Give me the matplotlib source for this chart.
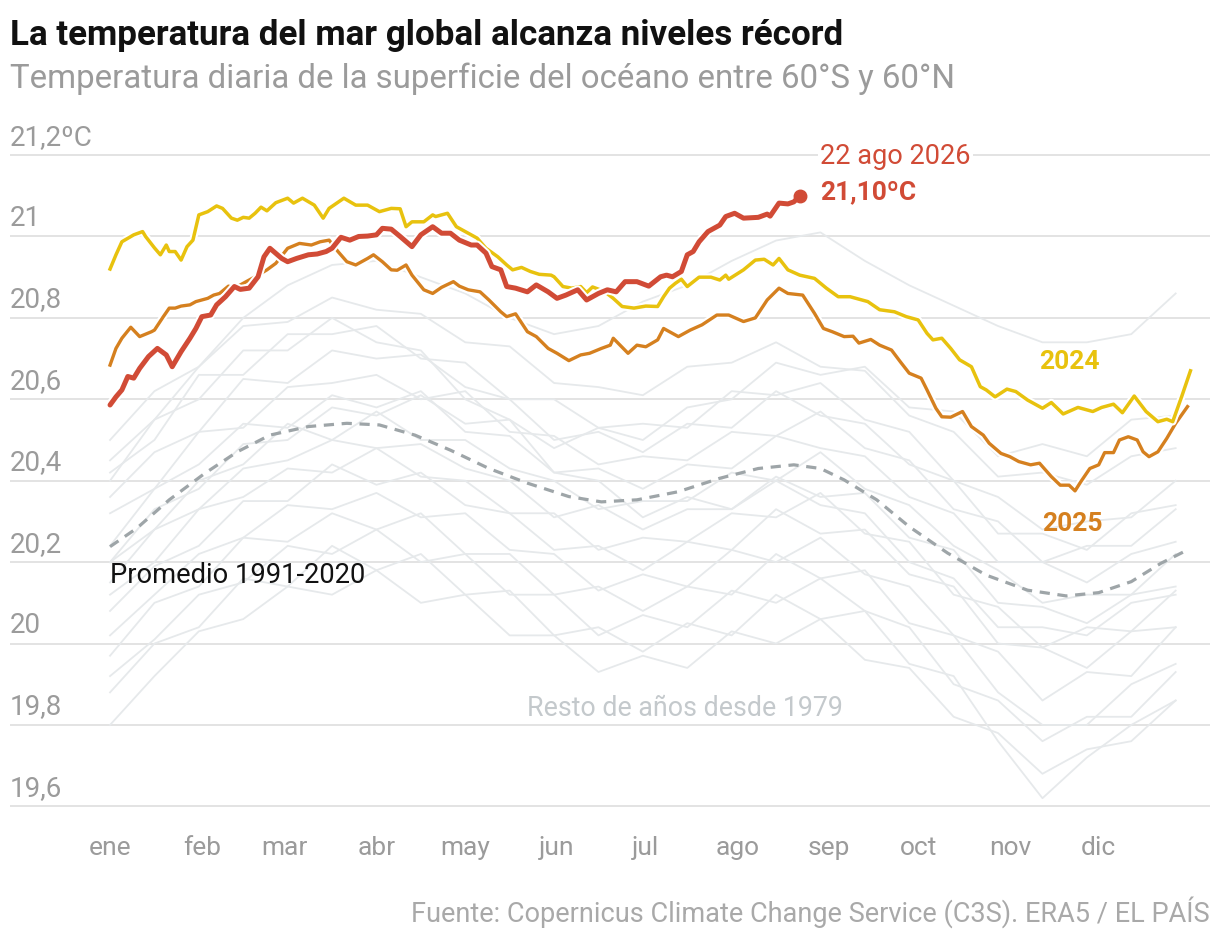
import matplotlib
matplotlib.use("Agg")
import matplotlib.pyplot as plt
import matplotlib.patheffects as pe

plt.rcParams['font.family'] = ['Roboto', 'DejaVu Sans']

# --- Datos ---
dias_2024 = [0, 2, 4, 8, 11, 12, 15, 17, 19, 20, 22, 24, 26, 28, 30, 33, 36, 38, 41, 43, 45, 47, 49, 51, 53, 56,
             60, 62, 65, 69, 72, 74, 79, 83, 87, 91, 95, 98, 100, 102, 106, 109, 110, 114, 117, 121, 124, 127, 131,
             134, 136, 139, 142, 145, 149, 150, 153, 156, 159, 161, 163, 167, 170, 173, 177, 181, 185, 187, 189, 191,
             193, 195, 199, 203, 206, 208, 209, 214, 218, 221, 224, 226, 229, 233, 238, 242, 246, 250, 256, 260, 265,
             269, 273, 276, 278, 281, 284, 287, 291, 294, 296, 299, 303, 306, 310, 315, 318, 322, 327, 332, 335, 339,
             342, 346, 350, 354, 357, 359, 362, 365]
temp_2024 = [20.92, 20.955, 20.987, 21.004, 21.012, 21.0, 20.972, 20.955, 20.979, 20.963, 20.963, 20.942, 20.975,
             20.991, 21.053, 21.061, 21.075, 21.069, 21.045, 21.04, 21.047, 21.045, 21.057, 21.072, 21.063, 21.083,
             21.094, 21.082, 21.094, 21.077, 21.045, 21.069, 21.094, 21.077, 21.077, 21.061, 21.069, 21.068, 21.024,
             21.036, 21.036, 21.053, 21.049, 21.057, 21.024, 21.008, 20.996, 20.971, 20.95, 20.93, 20.918, 20.924,
             20.914, 20.907, 20.905, 20.901, 20.877, 20.873, 20.877, 20.862, 20.876, 20.865, 20.848, 20.828, 20.824,
             20.829, 20.828, 20.852, 20.873, 20.885, 20.895, 20.877, 20.9, 20.9, 20.893, 20.905, 20.895, 20.918,
             20.942, 20.944, 20.93, 20.946, 20.918, 20.905, 20.897, 20.873, 20.852, 20.852, 20.84, 20.82, 20.815,
             20.803, 20.795, 20.762, 20.746, 20.75, 20.725, 20.697, 20.68, 20.631, 20.623, 20.606, 20.625, 20.619,
             20.598, 20.578, 20.592, 20.564, 20.58, 20.57, 20.58, 20.588, 20.567, 20.608, 20.57, 20.545, 20.551,
             20.545, 20.606, 20.67]

dias_2025 = [0, 2, 4, 7, 10, 14, 15, 18, 20, 22, 24, 27, 29, 33, 35, 37, 40, 42, 47, 50, 53, 56, 60, 64, 68, 71, 74,
             77, 80, 83, 87, 89, 92, 95, 97, 100, 102, 106, 109, 112, 116, 118, 121, 125, 128, 132, 134, 137, 141,
             144, 148, 151, 155, 159, 162, 166, 169, 170, 175, 178, 181, 185, 187, 192, 196, 200, 205, 209, 214,
             218, 222, 226, 229, 234, 238, 241, 244, 248, 251, 253, 257, 260, 264, 267, 270, 274, 276, 279, 281,
             284, 288, 291, 295, 297, 301, 304, 307, 311, 314, 318, 321, 324, 326, 328, 331, 334, 336, 339, 341,
             344, 347, 349, 351, 354, 357, 360, 364]
temp_2025 = [20.684, 20.725, 20.75, 20.777, 20.754, 20.766, 20.77, 20.803, 20.824, 20.824, 20.829, 20.832, 20.84,
             20.848, 20.856, 20.86, 20.878, 20.873, 20.893, 20.905, 20.918, 20.934, 20.971, 20.983, 20.979, 20.987,
             20.991, 20.963, 20.938, 20.93, 20.946, 20.955, 20.938, 20.918, 20.917, 20.93, 20.905, 20.869, 20.86,
             20.875, 20.889, 20.878, 20.869, 20.864, 20.844, 20.815, 20.803, 20.81, 20.766, 20.754, 20.725, 20.713,
             20.695, 20.709, 20.713, 20.725, 20.733, 20.75, 20.713, 20.733, 20.729, 20.746, 20.774, 20.754, 20.77,
             20.783, 20.807, 20.807, 20.791, 20.8, 20.844, 20.873, 20.86, 20.856, 20.811, 20.774, 20.766, 20.754,
             20.755, 20.738, 20.747, 20.733, 20.721, 20.692, 20.664, 20.652, 20.623, 20.578, 20.557, 20.556, 20.57,
             20.533, 20.512, 20.492, 20.467, 20.459, 20.447, 20.439, 20.443, 20.41, 20.389, 20.389, 20.375, 20.398,
             20.43, 20.439, 20.469, 20.469, 20.5, 20.508, 20.5, 20.471, 20.459, 20.471, 20.504, 20.541, 20.582]

dias_2026 = [0, 2, 4, 6, 8, 10, 13, 16, 19, 21, 24, 27, 29, 31, 34, 36, 39, 42, 44, 47, 50, 52, 54, 58, 60, 63, 67,
             70, 73, 75, 78, 81, 84, 87, 90, 92, 95, 98, 102, 105, 109, 112, 115, 118, 122, 124, 127, 129, 132, 134,
             137, 141, 144, 148, 151, 154, 158, 161, 165, 168, 171, 174, 178, 182, 186, 188, 190, 193, 195, 197, 199,
             202, 204, 206, 208, 211, 214, 219, 222, 223, 226, 229, 231, 233]
temp_2026 = [20.586, 20.606, 20.623, 20.656, 20.652, 20.676, 20.705, 20.725, 20.709, 20.68, 20.717, 20.75, 20.774,
             20.803, 20.807, 20.832, 20.852, 20.877, 20.87, 20.873, 20.901, 20.95, 20.971, 20.946, 20.938, 20.946,
             20.955, 20.957, 20.963, 20.971, 20.998, 20.991, 21.0, 21.001, 21.004, 21.02, 21.018, 21.0, 20.975,
             21.004, 21.024, 21.008, 21.008, 20.991, 20.979, 20.979, 20.959, 20.926, 20.918, 20.877, 20.873, 20.864,
             20.881, 20.864, 20.848, 20.856, 20.869, 20.844, 20.86, 20.869, 20.864, 20.889, 20.889, 20.878, 20.901,
             20.905, 20.901, 20.914, 20.955, 20.963, 20.987, 21.012, 21.02, 21.028, 21.049, 21.057, 21.045, 21.047,
             21.055, 21.05, 21.082, 21.08, 21.085, 21.10]

dias_promedio = [0, 9, 20, 32, 43, 54, 67, 80, 91, 103, 115, 128, 141, 155, 166, 178, 192, 206, 219, 231, 240, 248,
                 259, 270, 283, 296, 310, 323, 334, 345, 355, 364]
temp_promedio = [20.238, 20.283, 20.353, 20.418, 20.471, 20.512, 20.533, 20.541, 20.537, 20.512, 20.475, 20.43,
                 20.394, 20.361, 20.348, 20.353, 20.373, 20.406, 20.43, 20.439, 20.43, 20.402, 20.353, 20.287,
                 20.222, 20.168, 20.131, 20.117, 20.125, 20.152, 20.197, 20.23]

# resto de años desde 1979 (aproximados, cada 15 días)
dias_resto = [0, 15, 30, 45, 60, 75, 90, 105, 120, 135, 150, 165, 180, 195, 210, 225, 240, 255, 270, 285, 300, 315,
              330, 345, 360]
resto = [
    [20.45, 20.55, 20.68, 20.80, 20.88, 20.93, 20.94, 20.90, 20.86, 20.80, 20.76, 20.78, 20.84, 20.88, 20.94, 20.99,
     21.01, 20.94, 20.88, 20.83, 20.78, 20.74, 20.74, 20.76, 20.86],
    [20.50, 20.62, 20.68, 20.78, 20.79, 20.85, 20.82, 20.81, 20.74, 20.73, 20.64, 20.63, 20.61, 20.68, 20.69, 20.74,
     20.68, 20.67, 20.56, 20.52, 20.41, 20.42, 20.39, 20.46, 20.48],
    [20.42, 20.50, 20.66, 20.66, 20.76, 20.76, 20.78, 20.70, 20.69, 20.60, 20.60, 20.53, 20.54, 20.53, 20.62, 20.61,
     20.64, 20.55, 20.52, 20.40, 20.36, 20.28, 20.30, 20.31, 20.40],
    [20.36, 20.47, 20.52, 20.65, 20.64, 20.72, 20.70, 20.71, 20.63, 20.60, 20.50, 20.52, 20.47, 20.54, 20.53, 20.62,
     20.56, 20.54, 20.44, 20.40, 20.27, 20.27, 20.23, 20.32, 20.34],
    [20.32, 20.38, 20.52, 20.53, 20.63, 20.64, 20.66, 20.60, 20.62, 20.52, 20.51, 20.44, 20.46, 20.45, 20.52, 20.51,
     20.57, 20.48, 20.45, 20.33, 20.30, 20.20, 20.24, 20.24, 20.33],
    [20.24, 20.38, 20.44, 20.54, 20.53, 20.61, 20.58, 20.62, 20.52, 20.51, 20.42, 20.43, 20.38, 20.44, 20.43, 20.51,
     20.48, 20.46, 20.36, 20.32, 20.20, 20.20, 20.15, 20.22, 20.25],
    [20.20, 20.28, 20.40, 20.44, 20.54, 20.50, 20.57, 20.50, 20.50, 20.43, 20.40, 20.33, 20.35, 20.35, 20.42, 20.40,
     20.47, 20.38, 20.34, 20.24, 20.18, 20.10, 20.12, 20.12, 20.22],
    [20.15, 20.28, 20.33, 20.43, 20.45, 20.50, 20.48, 20.49, 20.43, 20.40, 20.31, 20.34, 20.28, 20.33, 20.33, 20.41,
     20.36, 20.37, 20.26, 20.23, 20.10, 20.09, 20.05, 20.12, 20.14],
    [20.12, 20.20, 20.33, 20.36, 20.43, 20.42, 20.48, 20.41, 20.40, 20.32, 20.32, 20.23, 20.26, 20.25, 20.32, 20.31,
     20.37, 20.27, 20.25, 20.12, 20.09, 19.99, 20.04, 20.03, 20.13],
    [20.08, 20.19, 20.24, 20.35, 20.35, 20.44, 20.39, 20.42, 20.34, 20.32, 20.23, 20.24, 20.18, 20.25, 20.23, 20.33,
     20.27, 20.28, 20.17, 20.14, 20.00, 19.99, 19.94, 20.03, 20.04],
    [20.02, 20.12, 20.22, 20.26, 20.34, 20.33, 20.37, 20.31, 20.32, 20.23, 20.22, 20.13, 20.17, 20.14, 20.23, 20.20,
     20.26, 20.17, 20.14, 20.02, 19.98, 19.86, 19.93, 19.92, 20.04],
    [19.97, 20.10, 20.14, 20.26, 20.25, 20.32, 20.28, 20.32, 20.22, 20.22, 20.12, 20.14, 20.08, 20.14, 20.12, 20.22,
     20.16, 20.18, 20.05, 20.02, 19.88, 19.80, 19.80, 19.90, 19.95],
    [19.92, 20.01, 20.12, 20.15, 20.24, 20.22, 20.28, 20.20, 20.22, 20.12, 20.12, 20.02, 20.07, 20.04, 20.13, 20.10,
     20.16, 20.08, 20.04, 19.90, 19.86, 19.76, 19.82, 19.82, 19.93],
    [19.88, 20.00, 20.04, 20.16, 20.14, 20.24, 20.18, 20.22, 20.12, 20.13, 20.02, 20.04, 19.98, 20.05, 20.02, 20.12,
     20.06, 20.08, 19.95, 19.92, 19.76, 19.62, 19.72, 19.80, 19.86],
    [19.80, 19.92, 20.03, 20.06, 20.14, 20.12, 20.18, 20.10, 20.12, 20.02, 20.02, 19.93, 19.97, 19.94, 20.03, 20.00,
     20.06, 19.96, 19.94, 19.82, 19.78, 19.68, 19.74, 19.76, 19.86],
    [20.40, 20.55, 20.60, 20.72, 20.72, 20.80, 20.74, 20.72, 20.60, 20.55, 20.42, 20.40, 20.31, 20.36, 20.33, 20.40,
     20.34, 20.32, 20.20, 20.16, 20.04, 20.04, 20.02, 20.10, 20.12],
    [20.20, 20.33, 20.38, 20.49, 20.50, 20.58, 20.56, 20.61, 20.54, 20.55, 20.48, 20.53, 20.50, 20.58, 20.60, 20.69,
     20.66, 20.68, 20.58, 20.57, 20.46, 20.49, 20.46, 20.55, 20.56],
]

y_ticks = [19.6, 19.8, 20.0, 20.2, 20.4, 20.6, 20.8, 21.0, 21.2]
y_labels = ['19,6', '19,8', '20', '20,2', '20,4', '20,6', '20,8', '21', '21,2ºC']
meses = ['ene', 'feb', 'mar', 'abr', 'may', 'jun', 'jul', 'ago', 'sep', 'oct', 'nov', 'dic']
inicio_mes = [0, 31, 59, 90, 120, 151, 181, 212, 243, 273, 304, 334]

# colores
ROJO = '#d14b36'
AMARILLO = '#e8c20e'
NARANJA = '#d5801f'
GRIS_LINEAS = '#e6e9eb'
GRIS_TEXTO = '#9b9b9b'

fig = plt.figure(figsize=(12.2, 9.42), dpi=100)
ax = fig.add_axes([10 / 1220, 0.1008, 1200 / 1220, 0.7778])
ax.set_xlim(-33.8, 371.6)
ax.set_ylim(19.5, 21.3)
ax.axis('off')

# líneas de referencia + etiquetas del eje y
for v, lab in zip(y_ticks, y_labels):
    ax.axhline(v, color='#e0e0e0', lw=1.3, zorder=0)
    ax.annotate(lab, xy=(0, v), xycoords=ax.get_yaxis_transform(), xytext=(0, 7.5),
                textcoords='offset points', ha='left', va='baseline', fontsize=20, color=GRIS_TEXTO)

# meses
for d, m in zip(inicio_mes, meses):
    ax.text(d, -0.011, m, transform=ax.get_xaxis_transform(), ha='center', va='baseline',
            fontsize=19, color=GRIS_TEXTO)

# resto de años
for serie in resto:
    ax.plot(dias_resto, serie, color=GRIS_LINEAS, lw=1.3, zorder=1)

halo = lambda w: [pe.Stroke(linewidth=w, foreground='white'), pe.Normal()]

ax.plot(dias_promedio, temp_promedio, color='#9ea5a8', lw=2.3, dashes=(3.2, 2.4), zorder=2)
ax.plot(dias_2025, temp_2025, color=NARANJA, lw=2.4, zorder=3, path_effects=halo(5.5))
ax.plot(dias_2024, temp_2024, color=AMARILLO, lw=2.5, zorder=4, path_effects=halo(5.5))
ax.plot(dias_2026, temp_2026, color=ROJO, lw=3.6, zorder=5, path_effects=halo(6.5),
        solid_capstyle='round')
ax.plot(dias_2026[-1], temp_2026[-1], 'o', color=ROJO, ms=9, zorder=6)

# anotaciones
ax.text(240, 21.178, '22 ago 2026', color=ROJO, fontsize=19.5, ha='left', va='baseline', zorder=7,
        bbox=dict(facecolor='white', edgecolor='none', pad=1.5))
ax.text(240, 21.092, '21,10ºC', color=ROJO, fontsize=19, fontweight='bold', ha='left', va='baseline', zorder=7)
ax.text(314, 20.674, '2024', color=AMARILLO, fontsize=19, fontweight='bold', ha='left', va='baseline', zorder=7)
ax.text(315, 20.276, '2025', color=NARANJA, fontsize=19, fontweight='bold', ha='left', va='baseline', zorder=7)
ax.text(0, 20.149, 'Promedio 1991-2020', color='#111111', fontsize=19.7, ha='left', va='baseline', zorder=7)
ax.text(141, 19.822, 'Resto de años desde 1979', color='#c4c9cc', fontsize=19.3, ha='left', va='baseline', zorder=7)

# títulos y fuente
fig.text(10 / 1220, 1 - 45 / 942, 'La temperatura del mar global alcanza niveles récord',
         fontsize=25.2, fontweight='bold', color='#111111', ha='left', va='baseline')
fig.text(10 / 1220, 1 - 88 / 942, 'Temperatura diaria de la superficie del océano entre 60°S y 60°N',
         fontsize=23.8, color=GRIS_TEXTO, ha='left', va='baseline')
fig.text(1210 / 1220, 1 - 922 / 942, 'Fuente: Copernicus Climate Change Service (C3S). ERA5 / EL PAÍS',
         fontsize=19.5, color='#a9a9a9', ha='right', va='baseline')

fig.savefig('out.png', dpi=100, facecolor='white')
